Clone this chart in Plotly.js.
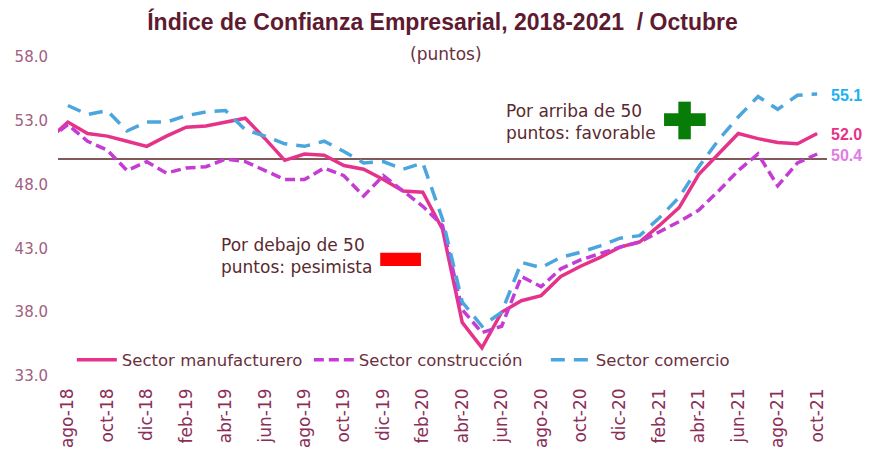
<!DOCTYPE html>
<html>
<head>
<meta charset="utf-8">
<script src="https://cdn.plot.ly/plotly-3.0.1.min.js"></script>
<style>html,body{margin:0;padding:0;background:#fff;}#chart{width:880px;height:452px;}</style>
</head>
<body>
<div id="chart"></div>
<script>
const months = ["jul-18","ago-18","sep-18","oct-18","nov-18","dic-18","ene-19","feb-19","mar-19","abr-19","may-19","jun-19",
  "jul-19","ago-19","sep-19","oct-19","nov-19","dic-19","ene-20","feb-20","mar-20","abr-20","may-20","jun-20",
  "jul-20","ago-20","sep-20","oct-20","nov-20","dic-20","ene-21","feb-21","mar-21","abr-21","may-21","jun-21",
  "jul-21","ago-21","sep-21","oct-21"];
const tickLabels = ["ago-18","oct-18","dic-18","feb-19","abr-19","jun-19","ago-19","oct-19","dic-19","feb-20",
  "abr-20","jun-20","ago-20","oct-20","dic-20","feb-21","abr-21","jun-21","ago-21","oct-21"];
const manufacturero = [51.5,52.9,52.0,51.8,51.4,51.0,51.8,52.5,52.6,52.9,53.2,51.6,
  49.9,50.4,50.3,49.5,49.2,48.4,47.5,47.4,44.5,37.2,35.2,38.0,
  38.9,39.3,40.8,41.6,42.3,43.1,43.5,44.8,46.2,48.8,50.4,52.0,
  51.6,51.3,51.2,52.0];
const construccion = [51.5,52.7,51.4,50.7,49.1,49.8,48.9,49.3,49.4,50.0,49.8,49.1,
  48.4,48.4,49.3,48.7,47.1,48.7,47.5,46.3,44.8,38.2,36.4,36.9,
  40.8,40.0,41.4,42.1,42.6,43.1,43.5,44.3,45.1,46.0,47.5,49.1,
  50.4,47.9,49.7,50.4];
const comercio = [null,54.2,53.5,53.8,52.2,52.9,52.9,53.4,53.7,53.8,52.3,51.8,
  51.2,51.0,51.4,50.6,49.7,49.8,49.2,49.7,45.3,38.8,36.9,38.0,
  41.9,41.5,42.3,42.7,43.2,43.8,44.0,45.4,47.0,49.4,51.5,53.3,
  54.9,53.9,55.0,55.1];
const seriesNames = ["Sector manufacturero","Sector construcción","Sector comercio"];
const threshold = 50;

const FONT = "DejaVu Sans, sans-serif";
const cManu = "#e6338a", cCons = "#c43cd4", cCom = "#4ba6de";

const traces = [
  {x: months, y: manufacturero, name: seriesNames[0], type: "scatter", mode: "lines",
   line: {color: cManu, width: 3.5}},
  {x: months, y: construccion, name: seriesNames[1], type: "scatter", mode: "lines",
   line: {color: cCons, width: 3.5, dash: "10px,5px"}},
  {x: months, y: comercio, name: seriesNames[2], type: "scatter", mode: "lines",
   line: {color: cCom, width: 3.5, dash: "14px,9px"}}
];

const last = a => a[a.length - 1];

const layout = {
  width: 880, height: 452,
  margin: {l: 58, r: 53, t: 57, b: 76},
  paper_bgcolor: "#ffffff", plot_bgcolor: "#ffffff",
  font: {family: FONT, color: "#6b3040"},
  title: {text: "Índice de Confianza Empresarial, 2018-2021  / Octubre",
    font: {family: "Liberation Sans, Arial, sans-serif", size: 23, color: "#5e1a30", weight: "bold"},
    x: 0.5, xref: "paper", xanchor: "center", y: 0.952, yref: "container", yanchor: "middle"},
  xaxis: {type: "category", categoryorder: "array", categoryarray: months,
    range: [0.5, months.length - 0.5], tickmode: "array", tickvals: tickLabels, ticktext: tickLabels,
    tickangle: -90, ticks: "", showgrid: false, zeroline: false, showline: false,
    tickfont: {family: FONT, size: 17, color: "#8a2e58"}, ticklabelstandoff: 8, fixedrange: true},
  yaxis: {range: [33, 58], tickmode: "array", tickvals: [33, 38, 43, 48, 53, 58], tickformat: ".1f",
    ticks: "", showgrid: false, zeroline: false, showline: false,
    tickfont: {family: FONT, size: 15, color: "#a06080"}, ticklabelstandoff: 9, fixedrange: true},
  showlegend: true,
  legend: {orientation: "h", x: 0.018, xanchor: "left", y: 0.05, yanchor: "middle",
    itemwidth: 40, entrywidth: 182, entrywidthmode: "pixels",
    bgcolor: "rgba(0,0,0,0)", font: {family: FONT, size: 16.5, color: "#6b3040"}, traceorder: "normal"},
  shapes: [
    {type: "line", xref: "paper", x0: 0, x1: 1, yref: "y", y0: threshold, y1: threshold,
     line: {color: "#5a2020", width: 1.5}, layer: "below"},
    {type: "rect", xref: "paper", yref: "paper", x0: 0.8067, x1: 0.8229, y0: 0.742, y1: 0.860,
     fillcolor: "#077d07", line: {width: 0}},
    {type: "rect", xref: "paper", yref: "paper", x0: 0.7881, x1: 0.8423, y0: 0.7837, y1: 0.8235,
     fillcolor: "#077d07", line: {width: 0}},
    {type: "rect", xref: "paper", yref: "paper", x0: 0.419, x1: 0.472, y0: 0.3448, y1: 0.3865,
     fillcolor: "#ff0000", line: {width: 0}}
  ],
  annotations: [
    {text: "(puntos)", xref: "paper", yref: "paper", x: 0.504, y: 1.01, xanchor: "center", yanchor: "middle",
     showarrow: false, font: {family: FONT, size: 17, color: "#6b3040"}},
    {text: "Por arriba de 50<br>puntos: favorable", xref: "paper", yref: "paper", x: 0.58, y: 0.796,
     xanchor: "left", yanchor: "middle", align: "left", showarrow: false,
     font: {family: FONT, size: 17, color: "#5a2a30"}},
    {text: "Por debajo de 50<br>puntos: pesimista", xref: "paper", yref: "paper", x: 0.21, y: 0.376,
     xanchor: "left", yanchor: "middle", align: "left", showarrow: false,
     font: {family: FONT, size: 17, color: "#5a2a30"}},
    {text: "<b>" + last(comercio).toFixed(1) + "</b>", xref: "paper", yref: "y", x: 1.003, y: last(comercio) - 0.1,
     xanchor: "left", yanchor: "middle", showarrow: false,
     font: {family: "Liberation Sans, Arial, sans-serif", size: 16, color: "#1cb2f2"}},
    {text: "<b>" + last(manufacturero).toFixed(1) + "</b>", xref: "paper", yref: "y", x: 1.003, y: last(manufacturero) - 0.05,
     xanchor: "left", yanchor: "middle", showarrow: false,
     font: {family: "Liberation Sans, Arial, sans-serif", size: 16, color: cManu}},
    {text: "<b>" + last(construccion).toFixed(1) + "</b>", xref: "paper", yref: "y", x: 1.003, y: last(construccion) - 0.15,
     xanchor: "left", yanchor: "middle", showarrow: false,
     font: {family: "Liberation Sans, Arial, sans-serif", size: 16, color: "#e07ce4"}}
  ]
};

Plotly.newPlot("chart", traces, layout, {displayModeBar: false, staticPlot: true});
</script>
</body>
</html>
